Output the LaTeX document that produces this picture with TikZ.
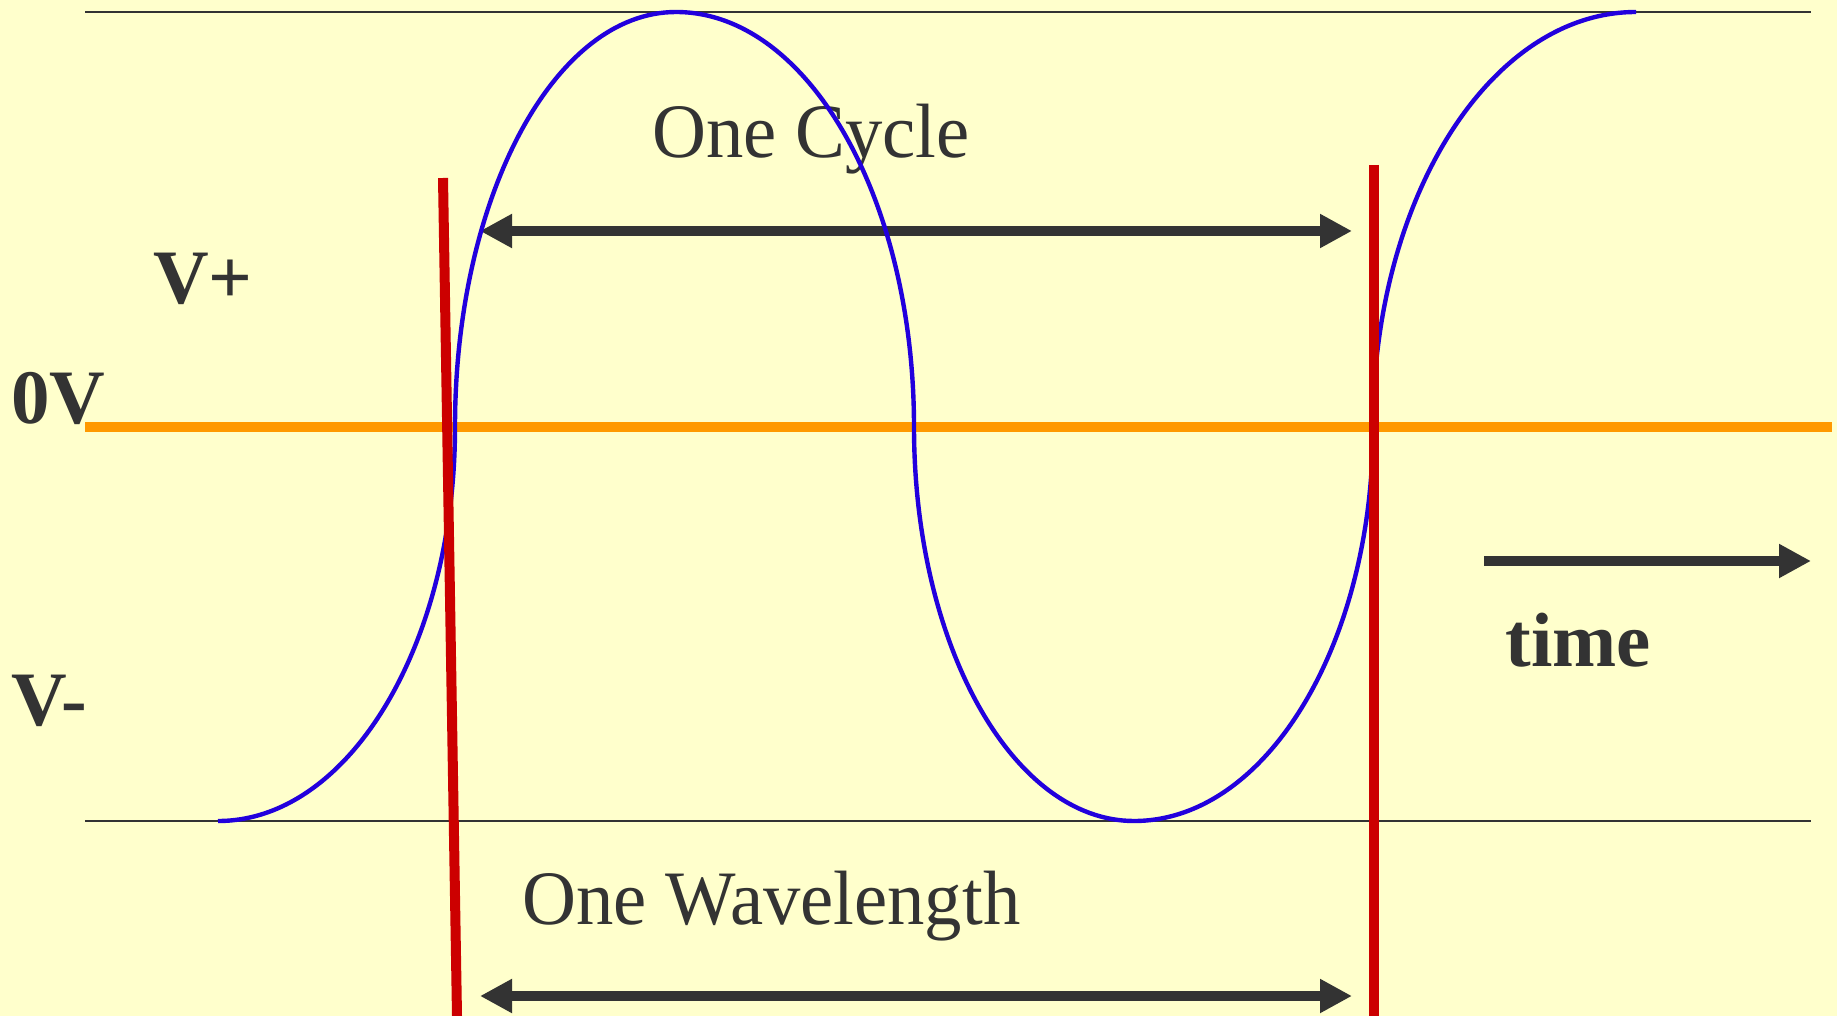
\documentclass[tikz,border=0pt]{standalone}
\usepackage{fontspec}
\setmainfont{Liberation Serif}
\newfontfamily\labelfont[FakeStretch=0.97]{Liberation Serif}
\usepackage{tikz}
\usetikzlibrary{arrows.meta}

\definecolor{paper}{RGB}{255,255,204}
\definecolor{ink}{RGB}{51,51,51}
\definecolor{wave}{RGB}{34,0,221}
\definecolor{marker}{RGB}{204,0,0}
\definecolor{zeroline}{RGB}{255,153,0}

\begin{document}
\begin{tikzpicture}[x=0.5pt, y=-0.5pt,
    lbl/.style={text=ink, inner sep=0pt, anchor=base west, font=\labelfont\fontsize{38.5}{40}\selectfont},
    vlbl/.style={text=ink, inner sep=0pt, anchor=base west, font=\bfseries\fontsize{38.5}{40}\selectfont},
    rail/.style={draw=ink, line width=0.75pt},
    spanarrow/.style={draw=ink, line width=5pt, {Triangle[length=16pt, width=16pt]}-{Triangle[length=16pt, width=16pt]}},
    timearrow/.style={draw=ink, line width=5pt, -{Triangle[length=16pt, width=16pt]}},
]
\useasboundingbox (0,0) rectangle (1837,1016);
\fill[paper] (0,0) rectangle (1837,1016);

\draw[rail] (85,12) -- (1811,12);
\draw[rail] (85,821) -- (1811,821);
\draw[zeroline, line width=5.3pt] (85,427) -- (1832,427);

\node[lbl] (cycle) at (652,158) {One Cycle};
\node[lbl] (wavelength) at (522,924) {One Wavelength};
\node[vlbl] (vplus) at (153,304) {V+};
\node[vlbl] (zero) at (11,423) {0V};
\node[vlbl] (vminus) at (11,725) {V-};
\node[vlbl] (time) at (1505,666) {time};

\coordinate (cycL) at (480,231);
\coordinate (cycR) at (1352,231);
\coordinate (wavL) at (480,996);
\coordinate (wavR) at (1352,996);
\coordinate (timeL) at (1484,561);
\coordinate (timeR) at (1811,561);

\draw[spanarrow] (cycL) -- (cycR);
\draw[spanarrow] (wavL) -- (wavR);
\draw[timearrow] (timeL) -- (timeR);

\draw[wave, line width=2.2pt]
  (218,821) arc[start angle=90, end angle=0, x radius=237, y radius=394]
  arc[start angle=180, end angle=270, x radius=221, y radius=415]
  arc[start angle=270, end angle=360, x radius=238, y radius=415]
  arc[start angle=180, end angle=90, x radius=220, y radius=394]
  arc[start angle=90, end angle=0, x radius=239, y radius=394]
  arc[start angle=180, end angle=270, x radius=263, y radius=415];

\draw[marker, line width=5pt] (443,178) -- (457,1016);
\draw[marker, line width=5pt] (1374,165) -- (1374,1016);
\end{tikzpicture}
\end{document}
